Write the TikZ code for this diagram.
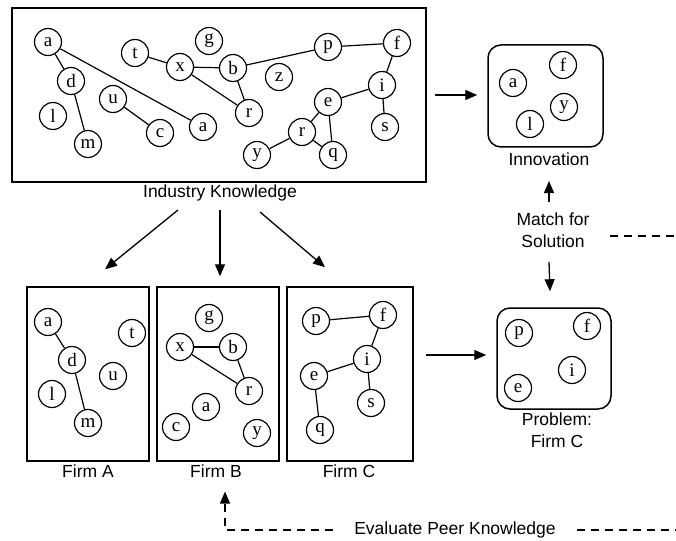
\documentclass[tikz,border=0pt]{standalone}
\usepackage{fontspec}
\setmainfont{Liberation Serif}
\setsansfont{Liberation Sans}
\usetikzlibrary{arrows.meta,calc}
\tikzset{
  idea/.style={circle,draw,line width=1.2pt,minimum size=27pt,inner sep=0pt,font=\fontsize{19}{19}\selectfont},
  pool/.style={rectangle,draw,line width=1.5pt,inner sep=0pt},
  bag/.style={rectangle,rounded corners=13pt,draw,line width=1.5pt,inner sep=0pt},
  lbl/.style={font=\sffamily\fontsize{17.5}{22}\selectfont,align=center,inner sep=1pt},
  link/.style={line width=1.2pt},
  arrow/.style={-{Triangle[length=12pt,width=10pt]},line width=1.3pt},
  dashline/.style={line width=1.3pt,dash pattern=on 8pt off 6pt}
}

\begin{document}
\begin{tikzpicture}[x=1pt,y=-1pt]
    \useasboundingbox (0,0) rectangle (676,540);
    % industry knowledge pool
    \node[pool,minimum width=414pt,minimum height=174pt] (ind) at (219,95) {};
    \node[lbl] (indlbl) at (220,193) {Industry Knowledge};
    \node[idea] (k-a) at (48,42) {a};
    \node[idea] (k-d) at (71,81) {d};
    \node[idea] (k-l) at (53,116) {l};
    \node[idea] (k-m) at (88,144) {m};
    \node[idea] (k-u) at (113,99) {u};
    \node[idea] (k-c) at (160,133) {c};
    \node[idea] (k-a2) at (203,127) {a};
    \node[idea] (k-t) at (135,53) {t};
    \node[idea] (k-g) at (209,41) {g};
    \node[idea] (k-x) at (180,67) {x};
    \node[idea] (k-b) at (233,68) {b};
    \node[idea] (k-r) at (249,113) {r};
    \node[idea] (k-z) at (279,77) {z};
    \node[idea] (k-p) at (328,47) {p};
    \node[idea] (k-f) at (397,43) {f};
    \node[idea] (k-i) at (382,85) {i};
    \node[idea] (k-s) at (385,127) {s};
    \node[idea] (k-e) at (328,102) {e};
    \node[idea] (k-r2) at (302,132) {r};
    \node[idea] (k-q) at (333,155) {q};
    \node[idea] (k-y) at (257,155) {y};
    \draw[link] (k-a) -- (k-d);
    \draw[link] (k-d) -- (k-m);
    \draw[link] (k-a) -- (k-a2);
    \draw[link] (k-u) -- (k-c);
    \draw[link] (k-t) -- (k-x);
    \draw[link] (k-x) -- (k-b);
    \draw[link] (k-x) -- (k-r);
    \draw[link] (k-b) -- (k-r);
    \draw[link] (k-b) -- (k-p);
    \draw[link] (k-p) -- (k-f);
    \draw[link] (k-f) -- (k-i);
    \draw[link] (k-i) -- (k-e);
    \draw[link] (k-i) -- (k-s);
    \draw[link] (k-e) -- (k-r2);
    \draw[link] (k-e) -- (k-q);
    \draw[link] (k-r2) -- (k-q);
    \draw[link] (k-r2) -- (k-y);

    % firm A
    \node[pool,minimum width=122pt,minimum height=174pt] (firmA) at (88,374) {};
    \node[lbl] (falbl) at (88,471) {Firm A};
    \node[idea] (fa-a) at (48,322) {a};
    \node[idea] (fa-d) at (72,360) {d};
    \node[idea] (fa-l) at (52,394) {l};
    \node[idea] (fa-m) at (88,423) {m};
    \node[idea] (fa-u) at (113,376) {u};
    \node[idea] (fa-t) at (132,333) {t};
    \draw[link] (fa-a) -- (fa-d);
    \draw[link] (fa-d) -- (fa-m);

    % firm B
    \node[pool,minimum width=122pt,minimum height=174pt] (firmB) at (218,374) {};
    \node[lbl] (fblbl) at (216,471) {Firm B};
    \node[idea] (fb-g) at (209,318) {g};
    \node[idea] (fb-x) at (180,347) {x};
    \node[idea] (fb-b) at (233,347) {b};
    \node[idea] (fb-r) at (249,391) {r};
    \node[idea] (fb-a) at (206,407) {a};
    \node[idea] (fb-c) at (176,427) {c};
    \node[idea] (fb-y) at (257,433) {y};
    \draw[link] (fb-x) -- (fb-b);
    \draw[link] (fb-x) -- (fb-r);
    \draw[link] (fb-b) -- (fb-r);

    % firm C
    \node[pool,minimum width=126pt,minimum height=174pt] (firmC) at (350,374) {};
    \node[lbl] (fclbl) at (349,471) {Firm C};
    \node[idea] (fc-p) at (316,321) {p};
    \node[idea] (fc-f) at (383,315) {f};
    \node[idea] (fc-i) at (367,359) {i};
    \node[idea] (fc-e) at (314,376) {e};
    \node[idea] (fc-s) at (371,403) {s};
    \node[idea] (fc-q) at (320,430) {q};
    \draw[link] (fc-p) -- (fc-f);
    \draw[link] (fc-f) -- (fc-i);
    \draw[link] (fc-i) -- (fc-e);
    \draw[link] (fc-i) -- (fc-s);
    \draw[link] (fc-e) -- (fc-q);

    % innovation
    \node[bag,minimum width=115pt,minimum height=102pt] (inno) at (545.5,96) {};
    \node[lbl] (innolbl) at (549,159) {Innovation};
    \node[idea] (in-a) at (513,83) {a};
    \node[idea] (in-f) at (563,65) {f};
    \node[idea] (in-y) at (564,107) {y};
    \node[idea] (in-l) at (530,124) {l};

    % problem of firm C
    \node[bag,minimum width=114pt,minimum height=101pt] (prob) at (554,358.5) {};
    \node[lbl] (problbl) at (557,430) {Problem:\\Firm C};
    \node[idea] (pr-p) at (519,333) {p};
    \node[idea] (pr-f) at (587,326) {f};
    \node[idea] (pr-i) at (572,370) {i};
    \node[idea] (pr-e) at (518,388) {e};

    \node[lbl] (match) at (553,230) {Match for\\Solution};
    \node[lbl] (evalpk) at (455,530) {Evaluate Peer Knowledge};
    \coordinate (matchend) at (676,236);
    \coordinate (evalend) at (676,530);
    \coordinate (evcorner) at (225,530);

    % arrows
    \draw[arrow] ($(ind.east)+(8,0)$) -- ($(inno.west |- ind.east)+(-10,0)$);
    \draw[arrow] ($(indlbl)+(-42,17)$) -- ($(firmA.north)+(17,-17)$);
    \draw[arrow] ($(indlbl)+(0,17)$) -- ($(firmB.north)+(2,-10)$);
    \draw[arrow] ($(indlbl)+(40,19)$) -- ($(firmC.north)+(-25,-19)$);
    \draw[arrow] ($(firmC.east)+(12,-19)$) -- ($(prob.west)+(-10,-3.5)$);
    \draw[arrow] ($(match)+(-4,-28)$) -- ($(innolbl)+(0,22)$);
    \draw[arrow] ($(match)+(-4,32)$) -- ($(prob.north)+(-4,-16)$);
    \draw[dashline] ($(match)+(57,6)$) -- (matchend);
    \draw[dashline] ($(evalpk.east)+(20,0)$) -- (evalend);
    \draw[dashline,-{Triangle[length=12pt,width=10pt]}] ($(evalpk.west)+(-20,0)$) -- (evcorner) -- ($(fblbl.south)+(9,13)$);
\end{tikzpicture}
\end{document}
